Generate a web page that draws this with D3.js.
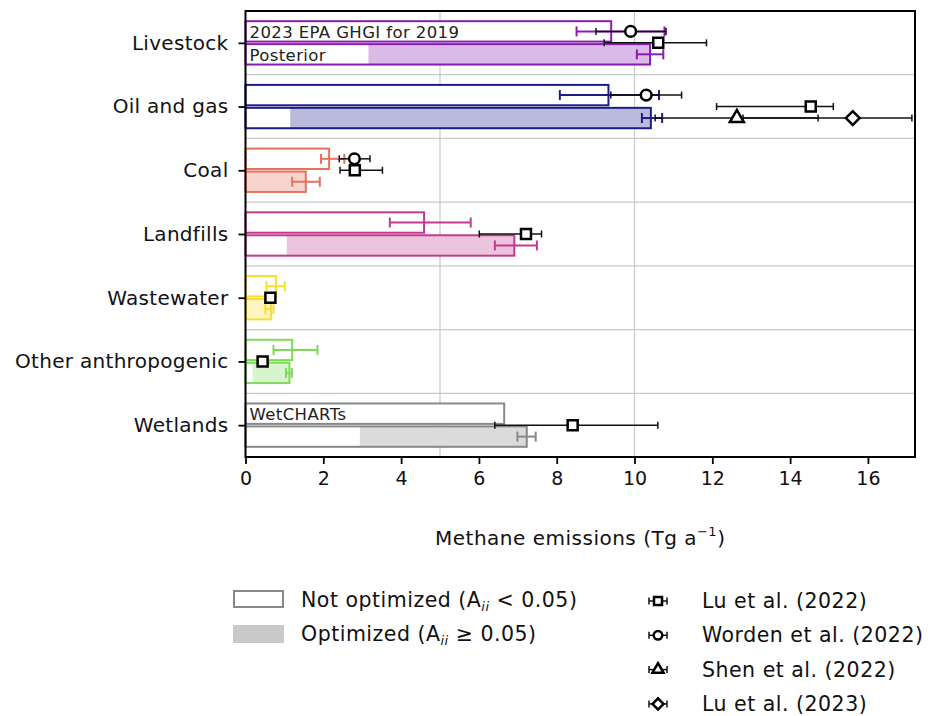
<!DOCTYPE html>
<html>
<head>
<meta charset="utf-8">
<script src="https://cdn.jsdelivr.net/npm/d3@7"></script>
<style>
  body { margin: 0; background: #fff; }
  svg { font-family: "DejaVu Sans", sans-serif; }
</style>
</head>
<body>
<svg id="chart" width="928" height="716"></svg>
<script>
// categories and colours
const categories = ["Livestock", "Oil and gas", "Coal", "Landfills", "Wastewater", "Other anthropogenic", "Wetlands"];
const catColors = ["#8a1cb0", "#1c1c8c", "#e8705e", "#c23a8e", "#f7df2e", "#7ed957", "#888888"];

// prior (2023 EPA GHGI for 2019 / WetCHARTs)
const priorValues = [9.40, 9.33, 2.15, 4.59, 0.78, 1.20, 6.65];
const priorLow = [8.51, 8.08, 1.94, 3.71, 0.54, 0.72, null];
const priorHigh = [10.77, 10.63, 2.54, 5.79, 1.01, 1.85, null];

// posterior
const postValues = [10.40, 10.42, 1.55, 6.91, 0.66, 1.13, 7.23];
const postNotOptimized = [3.16, 1.15, 0, 1.06, 0, 0.18, 2.94];
const postLow = [10.06, 10.19, 1.20, 6.41, 0.51, 1.04, 6.99];
const postHigh = [10.74, 10.71, 1.91, 7.49, 0.72, 1.19, 7.46];

// other studies
const lu2022Values = [10.61, 14.53, 2.81, 7.21, 0.64, 0.44, 8.41];
const lu2022Low = [9.22, 12.11, 2.43, 6.01, 0.58, 0.40, 6.41];
const lu2022High = [11.85, 15.11, 3.52, 7.61, 0.70, 0.48, 10.60];
const wordenValues = [9.90, 10.30, 2.80, null, null, null, null];
const wordenLow = [9.01, 9.39, 2.41, null, null, null, null];
const wordenHigh = [10.81, 11.21, 3.20, null, null, null, null];
const shenValues = [null, 12.63, null, null, null, null, null];
const shenLow = [null, 10.53, null, null, null, null, null];
const shenHigh = [null, 14.72, null, null, null, null, null];
const lu2023Values = [null, 15.61, null, null, null, null, null];
const lu2023Low = [null, 12.79, null, null, null, null, null];
const lu2023High = [null, 17.13, null, null, null, null, null];

const xTicks = [0, 2, 4, 6, 8, 10, 12, 14, 16];
const xGrid = [5, 10];

const studies = [
    { name: "Lu et al. (2022)", symbol: "square", row: 0, v: lu2022Values, lo: lu2022Low, hi: lu2022High },
    { name: "Worden et al. (2022)", symbol: "circle", row: -1, v: wordenValues, lo: wordenLow, hi: wordenHigh },
    { name: "Shen et al. (2022)", symbol: "triangle", row: 1, v: shenValues, lo: shenLow, hi: shenHigh },
    { name: "Lu et al. (2023)", symbol: "diamond", row: 1, v: lu2023Values, lo: lu2023Low, hi: lu2023High }
];

const svg = d3.select("#chart");
const plotLeft = 245.5, plotRight = 915, plotTop = 11, plotBottom = 457;

const x = d3.scaleLinear().domain([0, 17.21]).range([plotLeft, plotRight]);
const y = d3.scaleBand().domain(categories).range([plotTop, plotBottom]);
const bw = y.bandwidth();
const barH = 0.32 * bw, off = 0.18 * bw;
const cy = c => y(c) + bw / 2;
const rowY = (c, row) => cy(c) + row * off;

// grid
svg.append("g").selectAll("line")
    .data(categories.slice(1))
    .join("line")
    .attr("x1", plotLeft).attr("x2", plotRight)
    .attr("y1", d => y(d)).attr("y2", d => y(d))
    .attr("stroke", "#c8c8c8").attr("stroke-width", 1.2);
svg.append("g").selectAll("line")
    .data(xGrid)
    .join("line")
    .attr("x1", d => x(d)).attr("x2", d => x(d))
    .attr("y1", plotTop).attr("y2", plotBottom)
    .attr("stroke", "#c8c8c8").attr("stroke-width", 1.2);

const bars = svg.append("g");
categories.forEach((c, i) => {
    const col = catColors[i];
    // prior bar
    bars.append("rect")
        .attr("x", x(0)).attr("y", rowY(c, -1) - barH / 2)
        .attr("width", x(priorValues[i]) - x(0)).attr("height", barH)
        .attr("fill", "#fff").attr("stroke", col).attr("stroke-width", 2);
    // posterior bar: white base, optimized part filled
    bars.append("rect")
        .attr("x", x(0)).attr("y", rowY(c, 1) - barH / 2)
        .attr("width", x(postValues[i]) - x(0)).attr("height", barH)
        .attr("fill", "#fff");
    bars.append("rect")
        .attr("x", x(postNotOptimized[i])).attr("y", rowY(c, 1) - barH / 2)
        .attr("width", x(postValues[i]) - x(postNotOptimized[i])).attr("height", barH)
        .attr("fill", col).attr("fill-opacity", 0.3);
    bars.append("rect")
        .attr("x", x(0)).attr("y", rowY(c, 1) - barH / 2)
        .attr("width", x(postValues[i]) - x(0)).attr("height", barH)
        .attr("fill", "none").attr("stroke", col).attr("stroke-width", 2);
});

// text inside bars
const inBar = [
    { c: "Livestock", row: -1, t: "2023 EPA GHGI for 2019" },
    { c: "Livestock", row: 1, t: "Posterior" },
    { c: "Wetlands", row: -1, t: "WetCHARTs" }
];
svg.append("g").selectAll("text")
    .data(inBar)
    .join("text")
    .attr("x", x(0) + 4)
    .attr("y", d => rowY(d.c, d.row) + 6.5)
    .attr("font-size", 16.5)
    .attr("letter-spacing", 0.4)
    .attr("fill", "#222")
    .text(d => d.t);

function errorBar(g, x0, x1, yy, col, sw, capH, sc) {
    sc = sc || x;
    g.append("line").attr("x1", sc(x0)).attr("x2", sc(x1)).attr("y1", yy).attr("y2", yy)
        .attr("stroke", col).attr("stroke-width", sw);
    [x0, x1].forEach(v => g.append("line").attr("x1", sc(v)).attr("x2", sc(v))
        .attr("y1", yy - capH / 2).attr("y2", yy + capH / 2)
        .attr("stroke", col).attr("stroke-width", sw));
}

const errs = svg.append("g");
categories.forEach((c, i) => {
    if (priorLow[i] != null) errorBar(errs, priorLow[i], priorHigh[i], rowY(c, -1), catColors[i], 2, 10);
    errorBar(errs, postLow[i], postHigh[i], rowY(c, 1), catColors[i], 2, 10);
});

function symbolPath(name, k) {
    k = k || 1;
    if (name === "square") return d3.symbol(d3.symbolSquare, 100 * k * k)();
    if (name === "circle") return d3.symbol(d3.symbolCircle, 90 * k * k)();
    if (name === "triangle") return d3.symbol(d3.symbolTriangle, 85 * k * k)();
    return d3.symbol(d3.symbolSquare, 95 * k * k)();
}
const symbolRot = name => name === "diamond" ? " rotate(45)" : "";

const marks = svg.append("g");
studies.forEach(s => {
    categories.forEach((c, i) => {
        if (s.v[i] == null) return;
        const yy = rowY(c, s.row);
        errorBar(marks, s.lo[i], s.hi[i], yy, "#111", 1.5, 7);
        marks.append("path")
            .attr("d", symbolPath(s.symbol))
            .attr("transform", `translate(${x(s.v[i])},${yy})${symbolRot(s.symbol)}`)
            .attr("fill", "#fff").attr("stroke", "#000").attr("stroke-width", 2.5);
    });
});

// axes
const xAxis = svg.append("g")
    .attr("transform", `translate(0,${plotBottom})`)
    .call(d3.axisBottom(x).tickValues(xTicks).tickSize(7).tickPadding(8));
xAxis.select(".domain").remove();
xAxis.selectAll("line").attr("stroke-width", 1.8);
xAxis.selectAll("text").attr("font-size", 19).attr("font-family", "DejaVu Sans").attr("fill", "#111");

const yAxis = svg.append("g")
    .attr("transform", `translate(${plotLeft},0)`)
    .call(d3.axisLeft(d3.scalePoint().domain(categories).range([cy(categories[0]), cy(categories[6])])).tickSize(7).tickPadding(10));
yAxis.select(".domain").remove();
yAxis.selectAll("line").attr("stroke-width", 1.8);
yAxis.selectAll("text").attr("font-size", 20).attr("letter-spacing", 0.3)
    .attr("font-family", "DejaVu Sans").attr("fill", "#111");

// frame
svg.append("rect")
    .attr("x", plotLeft).attr("y", plotTop).attr("width", plotRight - plotLeft).attr("height", plotBottom - plotTop)
    .attr("fill", "none").attr("stroke", "#000").attr("stroke-width", 2);

// axis label
const xl = svg.append("text")
    .attr("x", (plotLeft + plotRight) / 2).attr("y", 545)
    .attr("text-anchor", "middle").attr("font-size", 20).attr("letter-spacing", 0.5).attr("fill", "#111");
xl.append("tspan").text("Methane emissions (Tg a");
xl.append("tspan").attr("dy", -9).attr("font-size", 13).text("−1");
xl.append("tspan").attr("dy", 9).text(")");

// legend: bar types
const leg = svg.append("g");
leg.append("rect").attr("x", 234).attr("y", 591).attr("width", 49).attr("height", 16)
    .attr("fill", "#fff").attr("stroke", "#888").attr("stroke-width", 2);
leg.append("rect").attr("x", 233).attr("y", 625).attr("width", 51).attr("height", 18)
    .attr("fill", "#888").attr("fill-opacity", 0.45);
const legTexts = [["Not optimized (A", " < 0.05)", 607], ["Optimized (A", " ≥ 0.05)", 641]];
legTexts.forEach(([a, b, yy]) => {
    const t = leg.append("text").attr("x", 301).attr("y", yy).attr("font-size", 20.5)
        .attr("letter-spacing", 0.5).attr("fill", "#111");
    t.append("tspan").text(a);
    t.append("tspan").attr("dy", 4).attr("font-size", 13).attr("font-style", "italic").text("ii");
    t.append("tspan").attr("dy", -4).text(b);
});

// legend: studies
studies.forEach((s, k) => {
    const yy = 601 + k * 34.3;
    const g = leg.append("g");
    g.append("line").attr("x1", 649).attr("x2", 667).attr("y1", yy).attr("y2", yy).attr("stroke", "#111").attr("stroke-width", 1.5);
    [649, 667].forEach(v => g.append("line").attr("x1", v).attr("x2", v).attr("y1", yy - 3.5).attr("y2", yy + 3.5)
        .attr("stroke", "#111").attr("stroke-width", 1.5));
    g.append("path").attr("d", symbolPath(s.symbol, 0.8))
        .attr("transform", `translate(658,${yy})${symbolRot(s.symbol)}`)
        .attr("fill", "#fff").attr("stroke", "#000").attr("stroke-width", 2.5);
    leg.append("text").attr("x", 702).attr("y", yy + 7).attr("font-size", 20.5)
        .attr("letter-spacing", 0.5).attr("fill", "#111").text(s.name);
});
</script>
</body>
</html>
